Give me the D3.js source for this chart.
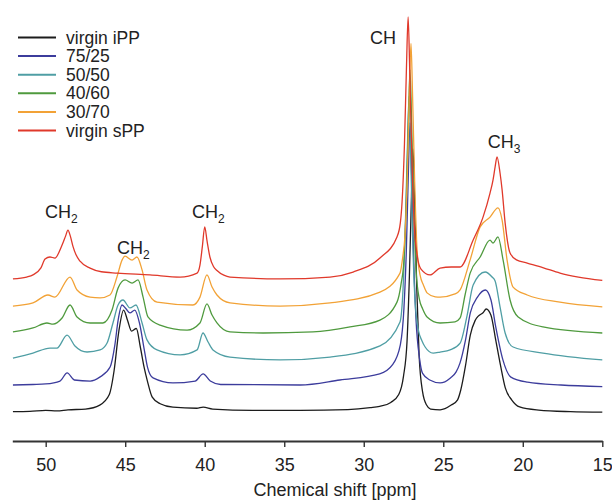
<!DOCTYPE html>
<html>
<head>
<meta charset="utf-8">
<script src="https://cdn.jsdelivr.net/npm/d3@7"></script>
<style>
  html, body { margin: 0; padding: 0; background: #fff; }
  svg { display: block; font-family: "Liberation Sans", Arial, Helvetica, sans-serif; }
</style>
</head>
<body>
<svg id="chart" width="612" height="500"></svg>
<script>
// ---------------- DATA ----------------
const seriesNames = ["virgin iPP", "75/25", "50/50", "40/60", "30/70", "virgin sPP"];
const seriesColors = ["#1c1c1c", "#3c3c9c", "#4f9ea4", "#4f9a3e", "#f2a236", "#e0392b"];
const stackOffsets = [0, 10, 20, 30, 40, 50];

// [chemical shift ppm, intensity]
const iPP = [[52.06,0.5],[51.0,0.6],[50.0,1.0],[49.3,0.8],[48.6,1.2],[47.5,1.5],[46.6,3],[46.0,7],[45.7,16],[45.4,31],[45.1,39],[44.85,35],[44.6,31],[44.3,32],[44.05,25],[43.8,17],[43.6,12],[43.3,6],[42.8,3.5],[42.0,2.2],[40.5,1.8],[40.1,2.2],[39.5,1.5],[37,1.0],[34,1.0],[31,1.3],[29.6,2.0],[29.0,2.5],[28.3,4],[27.8,7],[27.5,14],[27.28,27],[27.13,52],[27.0,82],[26.9,100],[26.8,80],[26.67,48],[26.52,22],[26.3,8],[26.05,3],[25.8,1.5],[25.2,1.2],[24.5,3],[24.1,5],[23.9,8.7],[23.6,18],[23.3,29.5],[23.0,35],[22.8,36.7],[22.5,38],[22.3,39.4],[22.0,37],[21.7,27.6],[21.4,18],[21.1,9.5],[20.7,5],[20.2,2.3],[19.0,1.1],[17,0.5],[15,0.3]];

const blend7525 = [[52.06,0.6],[50.8,0.8],[50.0,1.0],[49.1,2.1],[48.65,5.2],[48.2,2.5],[47.2,2.1],[46.6,3.6],[45.95,7.4],[45.65,15.8],[45.45,25],[45.2,30.9],[44.95,29.5],[44.7,27.9],[44.4,29],[44.1,24],[43.8,13.9],[43.6,7.4],[43.25,3.3],[42.0,1.4],[40.6,2.1],[40.1,4.8],[39.65,2.1],[39.0,0.8],[34.0,0.6],[31.5,2.5],[29.0,4.8],[28.2,8.2],[27.7,15.8],[27.47,30],[27.32,52],[27.19,82],[27.09,100],[26.99,80],[26.86,48],[26.71,25],[26.5,11],[26.3,5],[25.85,2.5],[25.2,1.4],[24.55,3.3],[24.2,5.5],[23.95,8.9],[23.6,17.7],[23.3,27.9],[22.85,33.9],[22.35,36.6],[22.0,32.8],[21.7,22.6],[21.25,10.1],[20.75,3.6],[19.7,1.7],[17.6,0.6],[15,0]];

const blend5050 = [[52.06,0.8],[50.8,2.7],[49.73,4.6],[49.29,4.6],[48.66,9.5],[48.16,5.4],[47.4,3.1],[46.58,3.9],[46.14,6.5],[45.77,14.1],[45.45,20.9],[45.14,22.8],[44.7,19.8],[44.32,20.9],[43.94,14.1],[43.63,7.7],[43.0,3.9],[41.55,2.0],[40.48,3.9],[40.11,10.3],[39.79,6.9],[39.48,3.9],[38.41,1.2],[35.26,0.1],[32.12,1.2],[28.98,5.4],[27.72,14.5],[27.53,27],[27.38,52],[27.25,82],[27.15,100],[27.05,78],[26.92,45],[26.77,22],[26.55,11],[26.35,7.5],[26.14,5],[25.64,2.7],[25.2,3.1],[24.57,3.9],[23.94,6.5],[23.5,17],[23.12,28.5],[22.37,33.4],[21.93,31.5],[21.74,30],[21.43,20.2],[21.11,10.3],[20.61,5],[18.73,2.7],[15,0.1]];

const blend4060 = [[52.06,0.7],[50.8,2.2],[49.92,4.1],[49.54,3.7],[48.97,6],[48.47,10.9],[48.03,6.4],[47.21,4.1],[46.4,4.1],[45.83,9],[45.45,17.3],[45.01,20.4],[44.57,19.2],[44.19,20.4],[43.88,14],[43.57,6.4],[42.81,3.3],[41.11,1.4],[40.3,4.1],[39.86,11.3],[39.54,7.1],[39.23,4.1],[38.41,0.7],[36.33,0.3],[33.19,0.7],[30.86,2.6],[28.98,5.2],[27.91,12],[27.65,19],[27.47,28],[27.32,52],[27.19,82],[27.09,100],[26.99,80],[26.86,48],[26.71,24],[26.5,13],[26.3,9.5],[26.02,6.4],[25.2,4.1],[24.26,4.5],[23.94,6],[23.63,14.7],[23.31,23],[22.68,29.1],[22.06,35.5],[21.87,34.4],[21.56,36.7],[21.24,28],[20.8,12.8],[20.29,6.4],[18.73,2.6],[15,0.3]];

const blend3070 = [[52.06,0.5],[50.8,1.7],[49.86,4.7],[49.42,3.9],[48.47,11.5],[48.03,6.6],[47.21,3.9],[46.58,3.6],[45.96,4.7],[45.52,11.5],[45.2,17.9],[45.01,19.4],[44.57,17.9],[44.26,19.1],[43.94,14.2],[43.63,6.6],[43.0,2.0],[40.74,0.9],[40.3,3.9],[39.86,12.3],[39.54,7.7],[39.23,4.7],[38.41,1.7],[35.26,0.5],[32.12,1.7],[28.98,5.8],[27.72,13],[27.55,19],[27.41,27],[27.26,50],[27.13,82],[27.03,100],[26.93,80],[26.8,48],[26.65,22],[26.45,12],[26.25,8.5],[26.02,5.5],[25.5,4],[25.2,3.9],[24.26,5.1],[23.94,6.6],[23.31,18],[22.68,30.5],[22.06,34.2],[21.56,37.7],[21.3,33.1],[20.99,18],[20.61,7.7],[19.72,4.7],[17.66,2],[15,0.2]];

const sPP = [[52.06,0.8],[51.2,1.5],[50.8,2.3],[50.3,5],[50.04,8.3],[49.73,9.1],[49.42,8.7],[48.97,13.6],[48.75,17],[48.6,19.3],[48.45,17],[48.28,13],[48.1,10],[47.84,7.5],[47.21,4.9],[46.5,3.5],[45.5,3],[43.44,2.3],[41.55,1.5],[40.48,3],[40.3,6],[40.15,13],[40.0,20.5],[39.85,15],[39.67,9],[39.45,5.5],[39.23,4],[38.8,2.2],[38.41,1.5],[35.26,0.8],[32.12,1.5],[30.67,3.4],[28.98,8.7],[27.91,16.7],[27.7,22],[27.59,30],[27.44,52],[27.31,82],[27.21,100],[27.11,80],[26.98,48],[26.83,22],[26.65,10],[26.4,4.5],[25.83,2.3],[25.2,4.9],[24.5,5.3],[23.94,5.3],[23.12,15.5],[22.5,24.2],[22.06,33.3],[21.87,38.3],[21.74,43.2],[21.62,47],[21.43,40.9],[21.3,34.5],[21.11,22],[20.8,10.6],[20.4,8],[19.72,6.8],[18.7,5],[17.66,3],[16.5,1.5],[15,0.2]];

const seriesData = [iPP, blend7525, blend5050, blend4060, blend3070, sPP];

const tickValues = [50, 45, 40, 35, 30, 25, 20, 15];
const axisTitle = "Chemical shift [ppm]";

const peakLabels = ["CH", "CH", "CH", "CH", "CH"];
const peakSubs = ["2", "2", "2", "", "3"];
const peakLabelPpm = [50.04, 45.52, 40.8, 29.6, 22.2];
const peakLabelLevel = [73.9, 60.2, 73.9, 139.6, 100.4];

// ---------------- DRAW ----------------
const svg = d3.select("#chart");
const x = d3.scaleLinear().domain([52.1, 15]).range([12.3, 602.3]);
const y = d3.scaleLinear().domain([0, 150]).range([413, 17]);

const line = d3.line()
  .x(d => x(d[0]))
  .y(d => y(d[1]))
  .curve(d3.curveMonotoneX);

seriesData.forEach((data, i) => {
  const shifted = data.map(d => [d[0], d[1] + stackOffsets[i]]);
  svg.append("path")
    .datum(shifted)
    .attr("fill", "none")
    .attr("stroke", seriesColors[i])
    .attr("stroke-width", 1.3)
    .attr("stroke-linejoin", "round")
    .attr("d", line);
});

// axis
const axis = d3.axisBottom(x).tickValues(tickValues).tickSize(6).tickSizeOuter(0).tickPadding(11)
  .tickFormat(d3.format("d"));
const gAxis = svg.append("g").attr("transform", "translate(0,441)").call(axis);
gAxis.select(".domain").attr("stroke", "#333").attr("stroke-width", 2);
gAxis.selectAll(".tick line").attr("stroke", "#333").attr("stroke-width", 1.4);
gAxis.selectAll(".tick text").attr("fill", "#222").style("font-size", "18px")
  .style("font-family", "'Liberation Sans', Arial, Helvetica, sans-serif");

svg.append("text")
  .attr("x", 335).attr("y", 496)
  .attr("text-anchor", "middle")
  .attr("fill", "#222")
  .style("font-size", "18px")
  .text(axisTitle);

// peak labels
peakLabels.forEach((t, i) => {
  const tx = svg.append("text")
    .attr("x", x(peakLabelPpm[i]))
    .attr("y", y(peakLabelLevel[i]))
    .attr("fill", "#222")
    .style("font-size", "18px")
    .text(t);
  if (peakSubs[i]) {
    tx.append("tspan").attr("dy", 5).style("font-size", "12px").text(peakSubs[i]);
  }
});

// legend
const legend = svg.append("g");
seriesNames.forEach((name, i) => {
  const ly = 37.5 + i * 18.6;
  legend.append("line")
    .attr("x1", 18).attr("x2", 56).attr("y1", ly).attr("y2", ly)
    .attr("stroke", seriesColors[i]).attr("stroke-width", 2);
  legend.append("text")
    .attr("x", 66).attr("y", ly).attr("dy", "0.35em")
    .attr("fill", "#222")
    .style("font-size", "17.5px")
    .text(name);
});
</script>
</body>
</html>
